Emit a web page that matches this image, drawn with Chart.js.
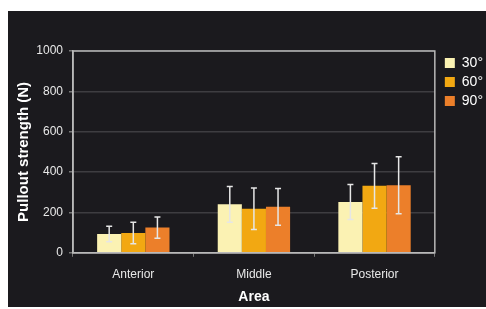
<!DOCTYPE html>
<html>
<head>
<meta charset="utf-8">
<script src="https://cdn.jsdelivr.net/npm/chart.js@4/dist/chart.umd.min.js"></script>
<style>
    html, body { margin: 0; padding: 0; background: #ffffff; }
    #panel {
        position: absolute; left: 8px; top: 11px;
        width: 478px; height: 296px;
        background: #1b1a1e;
    }
</style>
</head>
<body>
<div id="panel"><canvas id="pulloutChart" width="478" height="296"></canvas></div>
<script>
// Data
const areas = ['Anterior', 'Middle', 'Posterior'];
const angleLabels = ['30°', '60°', '90°'];
const strength30 = [93, 240, 252];
const strength60 = [98, 218, 332];
const strength90 = [125, 228, 335];
const error30 = [38, 88, 87];
const error60 = [53, 103, 111];
const error90 = [53, 91, 141];
const yTicks = [0, 200, 400, 600, 800, 1000];

const barColors = ['#fbf2b3', '#f2a812', '#ec7f2a'];
const FONT = 'Liberation Sans, Arial, sans-serif';

// Draws the error bars from each dataset's errors array
const errorBarPlugin = {
    id: 'errorBars',
    afterDatasetsDraw(chart) {
        const ctx = chart.ctx;
        const yScale = chart.scales.y;
        ctx.save();
        ctx.strokeStyle = '#e6e6e6';
        ctx.lineWidth = 1.5;
        chart.data.datasets.forEach((dataset, i) => {
            const meta = chart.getDatasetMeta(i);
            meta.data.forEach((bar, j) => {
                const value = dataset.data[j];
                const err = dataset.errors[j];
                const yTop = yScale.getPixelForValue(value + err);
                const yBottom = yScale.getPixelForValue(value - err);
                ctx.beginPath();
                ctx.moveTo(bar.x, yTop);
                ctx.lineTo(bar.x, yBottom);
                ctx.moveTo(bar.x - 3, yTop);
                ctx.lineTo(bar.x + 3, yTop);
                ctx.moveTo(bar.x - 3, yBottom);
                ctx.lineTo(bar.x + 3, yBottom);
                ctx.stroke();
            });
        });
        ctx.restore();
    }
};

// Light frame round the plot area, and legend nudged to the right
const framePlugin = {
    id: 'plotFrame',
    afterLayout(chart) {
        if (chart.legend) {
            chart.legend.left += 5;
            chart.legend.right += 5;
        }
    },
    afterDraw(chart) {
        const a = chart.chartArea;
        const ctx = chart.ctx;
        ctx.save();
        ctx.strokeStyle = '#b9b9b9';
        ctx.lineWidth = 1.5;
        ctx.strokeRect(a.left, a.top, a.right - a.left, a.bottom - a.top);
        ctx.restore();
    }
};

function makeDataset(label, values, errors, color) {
    return {
        label: label,
        data: values,
        errors: errors,
        backgroundColor: color,
        borderWidth: 0,
        categoryPercentage: 0.6,
        barPercentage: 1.0
    };
}

new Chart(document.getElementById('pulloutChart'), {
    type: 'bar',
    data: {
        labels: areas,
        datasets: [
            makeDataset(angleLabels[0], strength30, error30, barColors[0]),
            makeDataset(angleLabels[1], strength60, error60, barColors[1]),
            makeDataset(angleLabels[2], strength90, error90, barColors[2])
        ]
    },
    options: {
        responsive: false,
        animation: false,
        layout: { padding: { top: 40, right: -2, left: 0, bottom: 1 } },
        plugins: {
            legend: {
                position: 'right',
                align: 'start',
                labels: {
                    color: '#ffffff',
                    boxWidth: 10,
                    boxHeight: 10,
                    padding: 5,
                    font: { family: FONT, size: 14 }
                }
            },
            tooltip: { enabled: false }
        },
        scales: {
            x: {
                grid: {
                    offset: true,
                    drawOnChartArea: false,
                    tickColor: '#777777',
                    tickLength: 4
                },
                border: { color: '#b9b9b9', width: 1.5 },
                ticks: {
                    color: '#e8e8e8',
                    padding: 11,
                    font: { family: FONT, size: 12 }
                },
                title: {
                    display: true,
                    text: 'Area',
                    color: '#ffffff',
                    padding: { top: -4, bottom: 0 },
                    font: { family: FONT, size: 14, weight: 'bold' }
                }
            },
            y: {
                min: 0,
                max: 1000,
                afterBuildTicks(scale) {
                    scale.ticks = yTicks.map(v => ({ value: v }));
                },
                afterFit(scale) {
                    scale.width = 65;
                },
                grid: {
                    color: '#3e3d41',
                    lineWidth: 1.5,
                    tickColor: '#777777',
                    tickLength: 4
                },
                border: { color: '#b9b9b9', width: 1.5 },
                ticks: {
                    color: '#e8e8e8',
                    padding: 6,
                    callback: value => String(value),
                    font: { family: FONT, size: 12 }
                },
                title: {
                    display: true,
                    text: 'Pullout strength (N)',
                    color: '#ffffff',
                    padding: { top: 7, bottom: 0 },
                    font: { family: FONT, size: 15, weight: 'bold' }
                }
            }
        }
    },
    plugins: [errorBarPlugin, framePlugin]
});
</script>
</body>
</html>
